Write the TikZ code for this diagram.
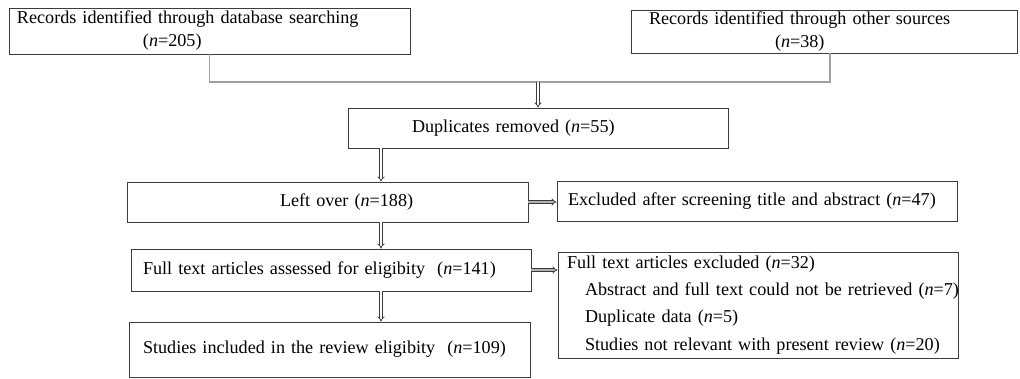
\documentclass[tikz,border=0pt]{standalone}
\usepackage{fontspec}
\setmainfont{Liberation Serif}
\usetikzlibrary{arrows.meta,positioning}
\definecolor{boxgray}{HTML}{3C3C3C}
\definecolor{linkgray}{HTML}{A0A0A0}
\newlength{\pxu}\setlength{\pxu}{0.025cm}
\newcommand{\shiftin}[1]{\hspace*{#1\pxu}}

\begin{document}
\begin{tikzpicture}[
  x=0.025cm, y=-0.025cm,
  flowbox/.style={draw=boxgray, line width=0.7pt, inner xsep=0pt, inner ysep=1pt, align=left, font=\fontsize{12.9}{16.3}\selectfont},
  mergeline/.style={draw=linkgray, line width=0.8pt},
  flowarrow/.style={draw=boxgray, double=white, double distance=1.3pt, line width=0.5pt, -{Implies}},
  sidearrow/.style={flowarrow, double=gray!60}
]
\useasboundingbox (0,0) rectangle (1020,379);

% Sources
\node[flowbox, text width=401\pxu, minimum height=46\pxu] (dbase) at (209.5,31)
  {\shiftin{8}Records identified through database searching\\\shiftin{134}(\textit{n}=205)};
\node[flowbox, text width=386\pxu, minimum height=43\pxu] (other) at (824,31.5)
  {\shiftin{18}Records identified through other sources\\\shiftin{144}(\textit{n}=38)};

% Main column
\node[flowbox, text width=380\pxu, minimum height=40\pxu] (dupl) at (538,128)
  {\shiftin{64}Duplicates removed (\textit{n}=55)};
\node[flowbox, text width=401\pxu, minimum height=40\pxu] (left) at (327.5,202)
  {\shiftin{153}Left over (\textit{n}=188)};
\node[flowbox, text width=400\pxu, minimum height=42\pxu] (full) at (331,270)
  {\shiftin{12}Full text articles assessed for eligibity\ \ (\textit{n}=141)};
\node[flowbox, text width=401\pxu, minimum height=55\pxu] (incl) at (329.5,349.5)
  {\shiftin{14}Studies included in the review eligibity\ \ (\textit{n}=109)};

% Exclusions
\node[flowbox, text width=400\pxu, minimum height=40\pxu] (excla) at (757,201)
  {\shiftin{11}Excluded after screening title and abstract (\textit{n}=47)};
\node[flowbox, text width=400\pxu, minimum height=106\pxu] (exclb) at (758,305)
  {\shiftin{9}Full text articles excluded (\textit{n}=32)\\[3.1pt]
   \shiftin{27}\mbox{Abstract and full text could not be retrieved (\textit{n}=7)}\\[3.1pt]
   \shiftin{27}Duplicate data (\textit{n}=5)\\[3.1pt]
   \shiftin{27}Studies not relevant with present review (\textit{n}=20)};

% Connectors
\coordinate (merge) at (538,82);
\coordinate (spine) at (381,0);
\draw[mergeline] (dbase.south) |- (merge) -| ([xshift=6\pxu]other.south);
\draw[flowarrow] (merge) -- (dupl.north);
\draw[flowarrow] (dupl.south -| spine) -- (left.north -| spine);
\draw[flowarrow] (left.south -| spine) -- (full.north -| spine);
\draw[flowarrow] (full.south -| spine) -- (incl.north -| spine);
\draw[sidearrow] (left.east) -- (excla.west |- left.east);
\draw[sidearrow] (full.east) -- (exclb.west |- full.east);
\end{tikzpicture}
\end{document}
